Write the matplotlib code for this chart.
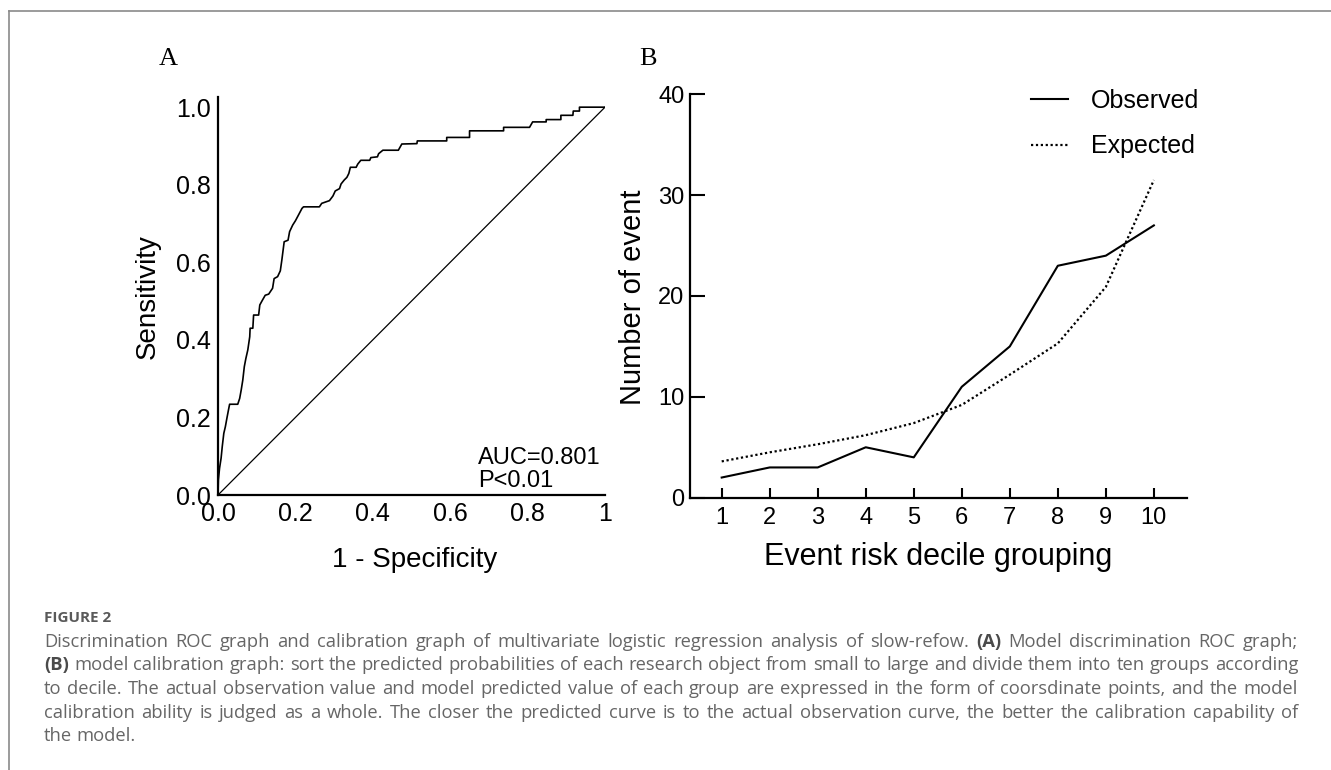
import matplotlib
matplotlib.use("Agg")
import matplotlib.pyplot as plt
from matplotlib.lines import Line2D

# ---------------- data ----------------
roc_fpr = [0.000, 0.001, 0.004, 0.008, 0.011, 0.015, 0.019, 0.023, 0.027, 0.030,
           0.051, 0.056, 0.060, 0.064, 0.068, 0.072, 0.077, 0.082, 0.083, 0.090,
           0.092, 0.105, 0.108, 0.114, 0.122, 0.131, 0.141, 0.145, 0.154, 0.161,
           0.165, 0.171, 0.181, 0.185, 0.193, 0.200, 0.208, 0.217, 0.221, 0.262,
           0.268, 0.288, 0.297, 0.303, 0.314, 0.318, 0.326, 0.333, 0.338, 0.342,
           0.357, 0.361, 0.369, 0.392, 0.395, 0.412, 0.415, 0.426, 0.466, 0.475,
           0.514, 0.515, 0.591, 0.591, 0.650, 0.650, 0.738, 0.738, 0.805, 0.813,
           0.848, 0.848, 0.886, 0.886, 0.917, 0.918, 0.934, 0.934, 1.000]
roc_tpr = [0.000, 0.039, 0.069, 0.095, 0.125, 0.159, 0.176, 0.198, 0.219, 0.234,
           0.234, 0.249, 0.271, 0.296, 0.331, 0.352, 0.374, 0.408, 0.430, 0.430,
           0.464, 0.464, 0.490, 0.501, 0.515, 0.518, 0.533, 0.558, 0.563, 0.578,
           0.606, 0.653, 0.657, 0.679, 0.696, 0.707, 0.722, 0.739, 0.743, 0.743,
           0.752, 0.759, 0.771, 0.784, 0.790, 0.802, 0.812, 0.819, 0.829, 0.845,
           0.845, 0.853, 0.863, 0.863, 0.870, 0.872, 0.880, 0.889, 0.889, 0.905,
           0.906, 0.913, 0.913, 0.922, 0.922, 0.939, 0.939, 0.948, 0.948, 0.962,
           0.962, 0.968, 0.968, 0.979, 0.979, 0.990, 0.990, 1.000, 1.000]
ref_line = [0.0, 1.0]
roc_xticks = [0.0, 0.2, 0.4, 0.6, 0.8, 1.0]
roc_xticklabels = ["0.0", "0.2", "0.4", "0.6", "0.8", "1"]
roc_yticks = [0.0, 0.2, 0.4, 0.6, 0.8, 1.0]
roc_yticklabels = ["0.0", "0.2", "0.4", "0.6", "0.8", "1.0"]
auc_text = "AUC=0.801\nP<0.01"

deciles = [1, 2, 3, 4, 5, 6, 7, 8, 9, 10]
observed = [2, 3, 3, 5, 4, 11, 15, 23, 24, 27]
expected = [3.6, 4.5, 5.3, 6.2, 7.4, 9.2, 12.2, 15.3, 20.9, 31.5]
cal_yticks = [0, 10, 20, 30, 40]

caption_title = "FIGURE 2"
caption_lines = [
    "Discrimination ROC graph and calibration graph of multivariate logistic regression analysis of slow-refow. (A) Model discrimination ROC graph;",
    "(B) model calibration graph: sort the predicted probabilities of each research object from small to large and divide them into ten groups according",
    "to decile. The actual observation value and model predicted value of each group are expressed in the form of coorsdinate points, and the model",
    "calibration ability is judged as a whole. The closer the predicted curve is to the actual observation curve, the better the calibration capability of",
    "the model.",
]

# ---------------- figure ----------------
FW, FH = 1331, 770
fig = plt.figure(figsize=(FW / 100, FH / 100), dpi=100)
SANS = ["Liberation Sans", "DejaVu Sans"]
SERIF = ["Liberation Serif", "DejaVu Serif"]


def fx(px):
    return px / FW


def fy(py):
    return 1 - py / FH


# border lines
fig.add_artist(Line2D([fx(9), fx(9)], [fy(11), 0], color="#8a8a8a", lw=1.2))
fig.add_artist(Line2D([fx(9), 1], [fy(11), fy(11)], color="#8a8a8a", lw=1.2))

# ---------------- panel A ----------------
axA = fig.add_axes([fx(218), fy(495), (605 - 218) / FW, (495 - 96.7) / FH])
axA.plot(roc_fpr, roc_tpr, color="black", lw=1.2)
axA.plot(ref_line, ref_line, color="black", lw=0.9)
axA.set_xlim(0, 1.0)
axA.set_ylim(0, 1.027)
for s in ["top", "right"]:
    axA.spines[s].set_visible(False)
for s in ["left", "bottom"]:
    axA.spines[s].set_linewidth(1.6)
axA.set_xticks(roc_xticks)
axA.set_xticklabels(roc_xticklabels)
axA.set_yticks(roc_yticks)
axA.set_yticklabels(roc_yticklabels)
axA.tick_params(length=0, pad=5, labelsize=18)
for lab in axA.get_xticklabels() + axA.get_yticklabels():
    lab.set_family(SANS)
axA.set_xlabel("1 - Specificity", fontsize=20, family=SANS)
axA.set_ylabel("Sensitivity", fontsize=20, family=SANS)
axA.xaxis.label.set(va="center", ha="center")
axA.yaxis.label.set(va="center", ha="center", rotation_mode="default")
axA.xaxis.set_label_coords(0.508, -0.163)
axA.yaxis.set_label_coords(-0.182, 0.497)
axA.text(0.673, 0.008, auc_text, transform=axA.transAxes, fontsize=17,
         family=SANS, ha="left", va="bottom", linespacing=1.05)
fig.text(fx(168), fy(59), "A", fontsize=19, family=SERIF, ha="center", va="center")

# ---------------- panel B ----------------
axB = fig.add_axes([fx(690), fy(497.7), (1187 - 690) / FW, (497.7 - 94.3) / FH])
axB.plot(deciles, observed, color="black", lw=1.5, label="Observed")
axB.plot(deciles, expected, color="black", lw=1.6, linestyle=(0, (1, 1.2)),
         dash_capstyle="butt", label="Expected")
axB.set_xlim(0.34, 10.69)
axB.set_ylim(0, 40)
for s in ["top", "right"]:
    axB.spines[s].set_visible(False)
for s in ["left", "bottom"]:
    axB.spines[s].set_linewidth(1.6)
axB.set_xticks(deciles)
axB.set_yticks(cal_yticks)
axB.tick_params(axis="x", direction="in", length=7, width=1.5, pad=7, labelsize=17)
axB.tick_params(axis="y", direction="in", length=11, width=1.5, pad=4, labelsize=17)
for lab in axB.get_xticklabels() + axB.get_yticklabels():
    lab.set_family(SANS)
axB.set_xlabel("Event risk decile grouping", fontsize=22, family=SANS)
axB.set_ylabel("Number of event", fontsize=21, family=SANS)
axB.xaxis.label.set(va="center", ha="center")
axB.yaxis.label.set(va="center", ha="center", rotation_mode="default")
axB.xaxis.set_label_coords(0.499, -0.147)
axB.yaxis.set_label_coords(-0.115, 0.4975)
leg = axB.legend(loc="upper left", bbox_to_anchor=(0.686, 1.013), frameon=False,
                 prop={"family": SANS, "size": 18}, handlelength=1.5,
                 handletextpad=0.9, labelspacing=0.85, borderpad=0, borderaxespad=0)
fig.text(fx(648), fy(59), "B", fontsize=19, family=SERIF, ha="center", va="center")

# ---------------- caption ----------------
CAP_COLOR = "#666666"
CAP_FAMILY = ["Open Sans", "DejaVu Sans"]
fig.text(fx(44), fy(618), caption_title, fontsize=11, family=CAP_FAMILY,
         weight="bold", color="#5a5a5a", ha="left", va="center")

fig.canvas.draw()
renderer = fig.canvas.get_renderer()
x_left, x_right = 44, 1298

# pick a caption size so the longest line fits naturally
probe = fig.text(0, 0, caption_lines[1], fontsize=12, family=CAP_FAMILY)
natural = probe.get_window_extent(renderer).width
probe.remove()
cap_size = 12 * (x_right - x_left) * 0.985 / natural

line_y = [642, 665, 689, 713, 736]
for i, line in enumerate(caption_lines):
    words = line.split(" ")
    texts = []
    for w in words:
        bold = w in ("(A)", "(B)")
        t = fig.text(0, fy(line_y[i]), w, fontsize=cap_size, family=CAP_FAMILY,
                     weight="bold" if bold else "normal",
                     color="#4a4a4a" if bold else CAP_COLOR, ha="left", va="center")
        texts.append(t)
    widths = [t.get_window_extent(renderer).width for t in texts]
    space = fig.text(0, 0, "a a", fontsize=cap_size, family=CAP_FAMILY)
    aa = fig.text(0, 0, "aa", fontsize=cap_size, family=CAP_FAMILY)
    sp_w = space.get_window_extent(renderer).width - aa.get_window_extent(renderer).width
    space.remove()
    aa.remove()
    if i < len(caption_lines) - 1 and len(words) > 1:
        gap = (x_right - x_left - sum(widths)) / (len(words) - 1)
    else:
        gap = sp_w
    x = x_left
    for t, w in zip(texts, widths):
        t.set_x(fx(x))
        x += w + gap

fig.savefig("out.png", dpi=100)
